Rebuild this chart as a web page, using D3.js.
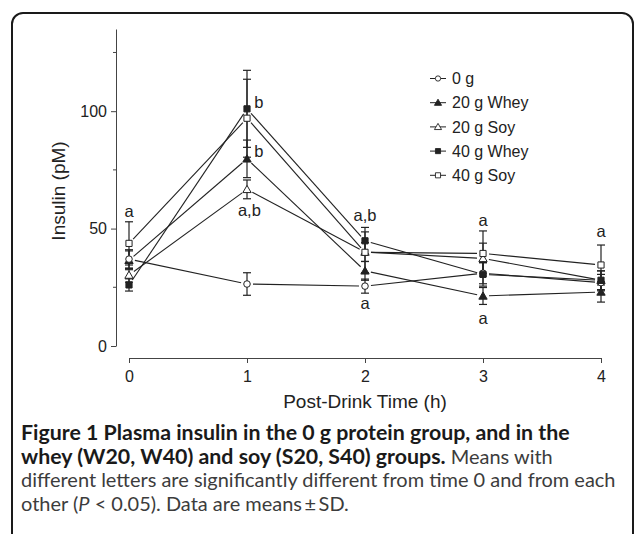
<!DOCTYPE html>
<html>
<head>
<meta charset="utf-8">
<script src="https://cdn.jsdelivr.net/npm/d3@7"></script>
<style>
  html, body { margin: 0; padding: 0; background: #fff; }
  svg { display: block; }
</style>
</head>
<body>
<svg id="chart" width="636" height="534"></svg>
<script>
// ---------------- data ----------------
const times = [0, 1, 2, 3, 4];
const seriesNames = ["0 g", "20 g Whey", "20 g Soy", "40 g Whey", "40 g Soy"];
const insulin0g  = [37.0, 26.4, 25.5, 31.0, 27.0];
const insulinW20 = [36.5, 79.7, 32.0, 21.3, 23.0];
const insulinS20 = [30.2, 66.7, 40.0, 37.3, 28.0];
const insulinW40 = [26.0, 101.0, 44.8, 30.5, 28.0];
const insulinS40 = [43.7, 97.0, 39.9, 39.4, 34.5];
const sd0g  = [4.0, 4.8, 3.0, 4.5, 3.5];
const sdW20 = [4.0, 8.0, 4.0, 3.6, 4.3];
const sdS20 = [3.0, 4.0, 4.0, 6.5, 4.0];
const sdW40 = [2.6, 16.4, 5.7, 5.0, 4.0];
const sdS40 = [9.2, 16.6, 8.7, 9.6, 8.5];
const yMajorTicks = [0, 50, 100];
const yMinorTicks = [25, 75, 125];
const xTicks = [0, 1, 2, 3, 4];
const annotTimes  = [0, 1.1, 1.1, 1.02, 2, 2, 3, 3, 4];
const annotValues = [57.1, 103.5, 82.5, 57.4, 55.5, 17.9, 53.2, 11.5, 48.6];
const annotTexts  = ["a", "b", "b", "a,b", "a,b", "a", "a", "a", "a"];

// ---------------- build series ----------------
const symbols = ["circle", "triangle", "triangle", "square", "square"];
const filled  = [false, true, false, true, false];
const allValues = [insulin0g, insulinW20, insulinS20, insulinW40, insulinS40];
const allSD = [sd0g, sdW20, sdS20, sdW40, sdS40];
const series = seriesNames.map((name, i) => ({
  name, symbol: symbols[i], filled: filled[i],
  points: times.map((t, j) => ({ t, v: allValues[i][j], sd: allSD[i][j] }))
}));
// drawing order for markers (which symbol sits on top where they overlap)
const markerOrder = [1, 0, 2, 3, 4];

// ---------------- layout ----------------
const svg = d3.select("#chart");
const ink = "#222";
const axisInk = "#444";
const chartFont = "'Liberation Sans', Arial, Helvetica, sans-serif";

const x = d3.scaleLinear().domain([0, 4]).range([129, 601]);
const y = d3.scaleLinear().domain([0, 135]).range([346, 29]);

// card border
svg.append("rect")
  .attr("x", 12).attr("y", 13).attr("width", 621).attr("height", 540)
  .attr("rx", 11).attr("ry", 11)
  .attr("fill", "none").attr("stroke", "#1a1a1a").attr("stroke-width", 2);

// y axis
const yAxisX = 116;
const gy = svg.append("g").attr("transform", `translate(${yAxisX},0)`)
  .call(d3.axisLeft(y).tickValues(yMajorTicks).tickSize(5).tickSizeOuter(0).tickPadding(4));
gy.select(".domain").attr("stroke", axisInk);
gy.selectAll(".tick line").attr("stroke", axisInk);
gy.selectAll(".tick text").attr("fill", ink).style("font-family", chartFont).style("font-size", "16px");
gy.selectAll(".minor").data(yMinorTicks).enter().append("line")
  .attr("class", "minor")
  .attr("x1", 0).attr("x2", -3)
  .attr("y1", d => y(d)).attr("y2", d => y(d))
  .attr("stroke", axisInk);

// x axis
const xAxisY = 358;
const gx = svg.append("g").attr("transform", `translate(0,${xAxisY})`)
  .call(d3.axisBottom(x).tickValues(xTicks).tickFormat(d3.format("d")).tickSize(5).tickSizeOuter(0).tickPadding(8));
gx.select(".domain").attr("stroke", axisInk);
gx.selectAll(".tick line").attr("stroke", axisInk);
gx.selectAll(".tick text").attr("fill", ink).style("font-family", chartFont).style("font-size", "16px");

// axis titles
svg.append("text")
  .attr("x", (x(0) + x(4)) / 2).attr("y", 408)
  .attr("text-anchor", "middle")
  .style("font-family", chartFont).style("font-size", "19px").attr("fill", ink)
  .text("Post-Drink Time (h)");
svg.append("text")
  .attr("transform", `translate(65,${y(66)}) rotate(-90)`)
  .attr("text-anchor", "middle")
  .style("font-family", chartFont).style("font-size", "19px").attr("fill", ink)
  .text("Insulin (pM)");

// ---------------- lines (with gaps near markers) ----------------
const gap = 6;
const gLines = svg.append("g");
series.forEach(s => {
  for (let j = 0; j < s.points.length - 1; j++) {
    const p0 = s.points[j], p1 = s.points[j + 1];
    const x0 = x(p0.t), y0 = y(p0.v), x1 = x(p1.t), y1 = y(p1.v);
    const len = Math.hypot(x1 - x0, y1 - y0);
    const ux = (x1 - x0) / len, uy = (y1 - y0) / len;
    gLines.append("line")
      .attr("x1", x0 + ux * gap).attr("y1", y0 + uy * gap)
      .attr("x2", x1 - ux * gap).attr("y2", y1 - uy * gap)
      .attr("stroke", ink).attr("stroke-width", 1.1);
  }
});

// ---------------- error bars ----------------
const cap = 4;
const gErr = svg.append("g");
series.forEach(s => {
  s.points.forEach(p => {
    const cx = x(p.t);
    gErr.append("line")
      .attr("x1", cx).attr("x2", cx)
      .attr("y1", y(p.v - p.sd)).attr("y2", y(p.v + p.sd))
      .attr("stroke", ink).attr("stroke-width", 1.2);
    [p.v - p.sd, p.v + p.sd].forEach(v => {
      gErr.append("line")
        .attr("x1", cx - cap).attr("x2", cx + cap)
        .attr("y1", y(v)).attr("y2", y(v))
        .attr("stroke", ink).attr("stroke-width", 1.2);
    });
  });
});

// ---------------- markers ----------------
function symbolPath(kind, size) {
  const t = kind === "circle" ? d3.symbolCircle : kind === "triangle" ? d3.symbolTriangle : d3.symbolSquare;
  return d3.symbol().type(t).size(size)();
}
const markerSize = { circle: 34, triangle: 30, square: 38 };
const gMarks = svg.append("g");
markerOrder.forEach(i => {
  const s = series[i];
  gMarks.selectAll(null).data(s.points).enter().append("path")
    .attr("d", symbolPath(s.symbol, markerSize[s.symbol]))
    .attr("transform", d => `translate(${x(d.t)},${y(d.v) + (s.symbol === "triangle" ? 0.8 : 0)})`)
    .attr("fill", s.filled ? ink : "#fff")
    .attr("stroke", ink).attr("stroke-width", 1);
});

// ---------------- annotations ----------------
svg.selectAll(".annot").data(annotTexts).enter().append("text")
  .attr("class", "annot")
  .attr("x", (d, i) => x(annotTimes[i]))
  .attr("y", (d, i) => y(annotValues[i]))
  .attr("dy", "0.3em")
  .attr("text-anchor", "middle")
  .style("font-family", chartFont).style("font-size", "16.5px").attr("fill", ink)
  .text(d => d);

// ---------------- legend ----------------
const legendY0 = 78.5, legendStep = 24.2;
const gLeg = svg.append("g");
series.forEach((s, i) => {
  const ly = legendY0 + i * legendStep;
  gLeg.append("line").attr("x1", 430).attr("x2", 446).attr("y1", ly).attr("y2", ly)
    .attr("stroke", ink).attr("stroke-width", 1);
  gLeg.append("path")
    .attr("d", symbolPath(s.symbol, s.symbol === "square" ? 26 : 22))
    .attr("transform", `translate(438,${ly + (s.symbol === "triangle" ? 0.6 : 0)})`)
    .attr("fill", s.filled ? ink : "#fff").attr("stroke", ink).attr("stroke-width", 0.9);
  gLeg.append("text").attr("x", 452).attr("y", ly).attr("dy", "0.36em")
    .style("font-family", chartFont).style("font-size", "16px").attr("fill", ink)
    .text(s.name);
});

// ---------------- caption ----------------
const captionFont = "Lato, 'Open Sans', sans-serif";
const captionLines = [
  [{ t: "Figure 1 Plasma insulin in the 0 g protein group, and in the", b: true }],
  [{ t: "whey (W20, W40) and soy (S20, S40) groups.", b: true }, { t: " Means with" }],
  [{ t: "different letters are significantly different from time 0 and from each" }],
  [{ t: "other (" }, { t: "P", i: true }, { t: " < 0.05). Data are means\u2009\u00b1\u2009SD." }]
];
const capX = 21, capY0 = 440, capStep = 23.5;

// fit font sizes to widths seen in the figure
function measure(text, bold, size) {
  const tmp = svg.append("text").style("font-family", captionFont)
    .style("font-size", size + "px").style("font-weight", bold ? "700" : "400").text(text);
  const w = tmp.node().getComputedTextLength();
  tmp.remove();
  return w;
}
const regSize = 16 * 595 / measure(captionLines[2][0].t, false, 16);
const boldSize = 16 * 549 / measure(captionLines[0][0].t, true, 16);

captionLines.forEach((line, i) => {
  const t = svg.append("text").attr("x", capX).attr("y", capY0 + i * capStep)
    .style("font-family", captionFont);
  line.forEach(seg => {
    t.append("tspan")
      .style("font-weight", seg.b ? "700" : "400")
      .style("font-style", seg.i ? "italic" : "normal")
      .style("font-size", (seg.b ? boldSize : regSize) + "px")
      .attr("fill", seg.b ? "#1a1a1a" : "#3c3c3c")
      .text(seg.t);
  });
});
</script>
</body>
</html>
